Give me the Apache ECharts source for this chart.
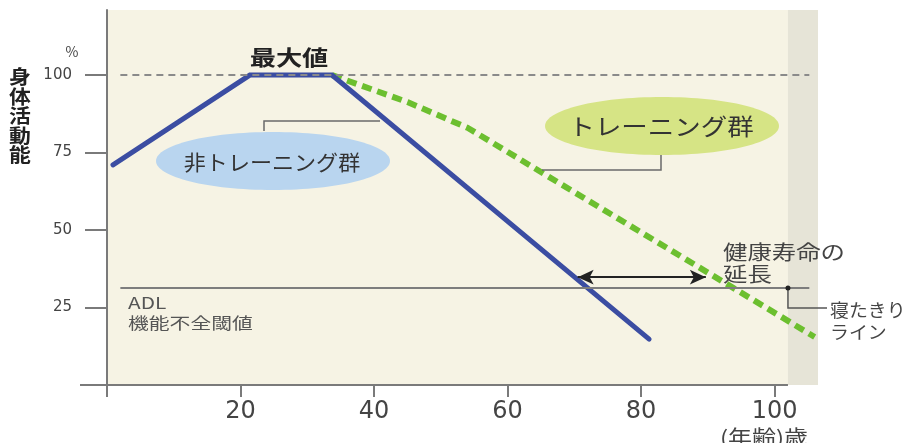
<!DOCTYPE html>
<html><head><meta charset="utf-8">
<script src="https://cdn.jsdelivr.net/npm/echarts@6/dist/echarts.min.js"></script>
<style>html,body{margin:0;padding:0;background:#fff}#c{width:909px;height:443px}</style>
</head><body><div id="c"></div>
<script>
// ---- data ----
const ageTicks = [0, 20, 40, 60, 80, 100];
const ageLabels = [20, 40, 60, 80, 100];
const levelTicks = [25, 50, 75, 100];
const nonTrainingAge = [0.9, 21.4, 33.7, 81.2];
const nonTrainingLevel = [71, 100, 100, 14.8];
const trainingAge = [33.7, 45, 54, 106];
const trainingLevel = [100, 91.3, 83, 15.5];
const maxLevel = 100;
const adlLevel = 31.3;
const refLineAges = [2, 105.2];
const extensionAges = [70.5, 89.7];
const extensionLevel = 34.8;
const bedriddenAge = 102;
const ageMax = 106.5;
const levelMax = 121;

// ---- chart ----
const chart = echarts.init(document.getElementById('c'), null, {renderer: 'canvas'});
const FONT = '"Noto Sans CJK JP", "Noto Sans", sans-serif';
const NUM = '"DejaVu Sans", sans-serif';
const pair = (xs, ys) => xs.map((x, i) => [x, ys[i]]);
const axisGrey = '#7a7a7a';

chart.setOption({
  animation: false,
  backgroundColor: '#ffffff',
  grid: {left: 107, right: 91, top: 10, bottom: 58, show: true, backgroundColor: '#f6f3e4', borderWidth: 0},
  xAxis: [
    {type: 'value', min: 0, max: ageMax, axisLine: {show: false}, axisTick: {show: false}, axisLabel: {show: false}, splitLine: {show: false}},
    {type: 'value', min: 0, max: ageMax, position: 'bottom', offset: 3,
     axisLine: {show: false},
     axisTick: {show: true, length: 12, customValues: ageTicks, lineStyle: {color: axisGrey, width: 2}},
     axisLabel: {customValues: ageLabels, margin: 12, fontSize: 24, color: '#444', fontFamily: NUM},
     splitLine: {show: false}}
  ],
  yAxis: [
    {type: 'value', min: 0, max: levelMax, axisLine: {show: true, lineStyle: {color: axisGrey, width: 2}}, axisTick: {show: false}, axisLabel: {show: false}, splitLine: {show: false}},
    {type: 'value', min: 0, max: levelMax, position: 'left', offset: 5,
     axisLine: {show: false},
     axisTick: {show: true, length: 22, customValues: levelTicks, lineStyle: {color: axisGrey, width: 2}},
     axisLabel: {customValues: levelTicks, margin: 30, fontSize: 15, color: '#444', fontFamily: NUM},
     splitLine: {show: false}}
  ],
  series: [
    {type: 'line', data: [], z: 1, silent: true,
     markArea: {silent: true, itemStyle: {color: '#e6e4d7'}, data: [[{xAxis: bedriddenAge}, {xAxis: ageMax}]]},
     markLine: {silent: true, symbol: 'none', label: {show: false},
       data: [
         [{coord: [refLineAges[0], maxLevel], lineStyle: {color: '#8a8a8a', width: 2, type: [7, 5]}}, {coord: [refLineAges[1], maxLevel]}],
         [{coord: [refLineAges[0], adlLevel], lineStyle: {color: '#7d7d7d', width: 2, type: 'solid'}}, {coord: [refLineAges[1], adlLevel]}]
       ]}},
    {type: 'line', data: [], z: 2, silent: true,
     markLine: {silent: true, symbol: ['arrow', 'arrow'], symbolSize: [11, 16], label: {show: false},
       lineStyle: {color: '#222', width: 2, type: 'solid'},
       data: [[{coord: [extensionAges[0], extensionLevel]}, {coord: [extensionAges[1], extensionLevel]}]]}},
    {name: 'トレーニング群', type: 'line', data: pair(trainingAge, trainingLevel), symbol: 'none', z: 3,
     lineStyle: {color: '#6cbf2f', width: 6, type: [10, 6]}},
    {name: '非トレーニング群', type: 'line', data: pair(nonTrainingAge, nonTrainingLevel), symbol: 'none', z: 4,
     lineStyle: {color: '#3b4da2', width: 5, cap: 'round', join: 'miter'}}
  ]
});

const x0 = chart.convertToPixel({xAxisIndex: 0}, 0);
const xBed = chart.convertToPixel({xAxisIndex: 0}, bedriddenAge);
const yZero = chart.convertToPixel({yAxisIndex: 0}, 0);
const adlPt = chart.convertToPixel({gridIndex: 0}, [bedriddenAge, adlLevel]);

function txt(x, y, text, size, opt) {
  opt = opt || {};
  return {type: 'text', x: x, y: y, scaleX: opt.sx || 1, z: 100,
    style: {text: text, x: 0, y: 0, fontSize: size, fontFamily: FONT, fontWeight: opt.bold ? 'bold' : 'normal',
      fill: opt.color || '#333', align: opt.align || 'center', verticalAlign: 'middle', lineHeight: opt.lh || size * 1.2}};
}

chart.setOption({
  graphic: [
    {type: 'line', z: 50, shape: {x1: x0 - 27, y1: yZero, x2: xBed, y2: yZero}, style: {stroke: axisGrey, lineWidth: 2}},
    {type: 'ellipse', z: 90, shape: {cx: 273, cy: 161, rx: 117, ry: 29}, style: {fill: '#b9d5ef'}},
    txt(272, 162, '非トレーニング群', 21, {sx: 1.05}),
    {type: 'polyline', z: 90, shape: {points: [[264, 131], [264, 121], [380, 121]]}, style: {stroke: '#6a6a6a', lineWidth: 1.5, fill: null}},
    {type: 'ellipse', z: 90, shape: {cx: 662, cy: 126, rx: 117, ry: 29}, style: {fill: '#d6e485'}},
    txt(661, 126, 'トレーニング群', 23, {sx: 1.15}),
    {type: 'polyline', z: 90, shape: {points: [[661, 155], [661, 170], [542, 170]]}, style: {stroke: '#6a6a6a', lineWidth: 1.5, fill: null}},
    txt(289, 57, '最大値', 21, {bold: true, sx: 1.25, color: '#222'}),
    txt(72, 52, '%', 14, {color: '#444'}),
    txt(20, 116, '身\n体\n活\n動\n能', 19, {bold: true, sx: 1.15, lh: 19.5, color: '#222'}),
    txt(723, 263, '健康寿命の\n延長', 20, {align: 'left', sx: 1.22, lh: 22, color: '#444'}),
    {type: 'circle', z: 95, shape: {cx: adlPt[0], cy: adlPt[1], r: 2.5}, style: {fill: '#222'}},
    {type: 'polyline', z: 90, shape: {points: [[adlPt[0], adlPt[1]], [adlPt[0], 308], [827, 308]]}, style: {stroke: '#555', lineWidth: 1.5, fill: null}},
    txt(830, 321, '寝たきり\nライン', 18, {align: 'left', sx: 1.05, lh: 22, color: '#444'}),
    txt(128, 313, 'ADL\n機能不全閾値', 16, {align: 'left', sx: 1.3, lh: 20, color: '#555'}),
    txt(764, 437, '(年齢)歳', 20, {sx: 1.2, color: '#444'})
  ]
});
</script></body></html>
